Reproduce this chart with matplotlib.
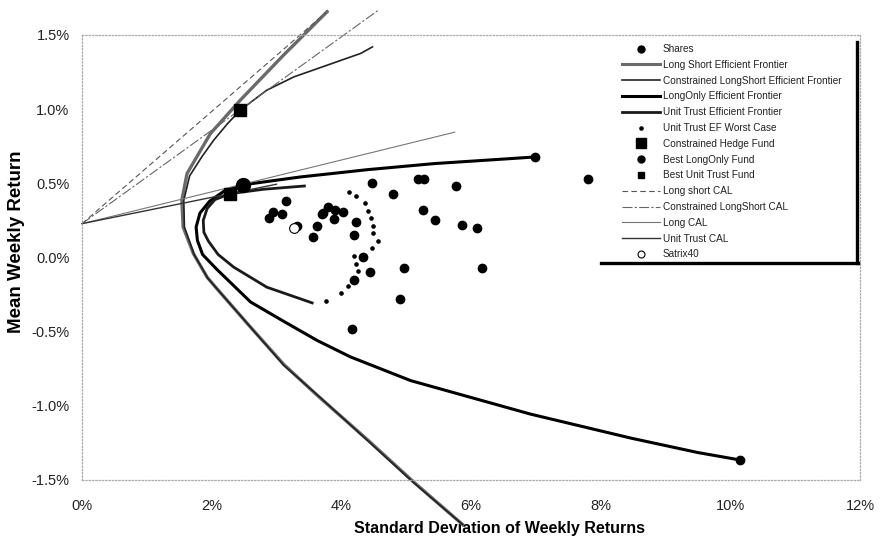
import matplotlib
matplotlib.use("Agg")
import matplotlib.pyplot as plt
from matplotlib.lines import Line2D
from matplotlib.ticker import FuncFormatter

# all values in percent (weekly)
share_sd = [4.47, 4.79, 5.19, 5.27, 5.77, 5.26, 5.44, 5.86, 6.09, 4.96, 6.17, 4.90, 4.17,
            4.23, 4.20, 4.33, 4.44, 4.20, 3.14, 2.95, 3.09, 2.89, 3.63, 3.57, 3.79, 3.72,
            3.88, 3.90, 4.02, 3.32, 7.80, 6.99, 10.15, 3.70]
share_mu = [0.50, 0.43, 0.527, 0.527, 0.48, 0.32, 0.25, 0.22, 0.20, -0.07, -0.07, -0.28, -0.48,
            0.24, 0.15, 0.00, -0.095, -0.155, 0.38, 0.31, 0.29, 0.265, 0.21, 0.14, 0.34, 0.30,
            0.26, 0.32, 0.31, 0.21, 0.526, 0.678, -1.365, 0.29]

ls_sd = [3.78, 3.11, 2.44, 1.98, 1.62, 1.54, 1.56, 1.72, 1.93, 2.08, 2.60, 3.11, 3.63, 4.42, 5.12, 5.87]
ls_mu = [1.657, 1.365, 1.06, 0.835, 0.566, 0.385, 0.205, 0.025, -0.133, -0.21, -0.47, -0.72, -0.93,
         -1.235, -1.515, -1.80]

cls_sd = [4.48, 4.30, 3.27, 2.85, 2.44, 2.24, 2.03, 1.85, 1.66, 1.57, 1.58, 1.73, 1.94, 2.10, 2.62,
          3.12, 3.64, 4.42, 5.12, 5.87]
cls_mu = [1.42, 1.376, 1.218, 1.128, 0.993, 0.90, 0.79, 0.68, 0.55, 0.385, 0.205, 0.02, -0.14, -0.22,
          -0.48, -0.73, -0.93, -1.24, -1.52, -1.80]

lo_sd = [6.99, 6.62, 5.43, 4.40, 3.37, 2.48, 2.20, 1.97, 1.82, 1.76, 1.78, 1.86, 2.08, 2.60, 3.11,
         3.63, 4.14, 5.07, 6.92, 8.47, 9.50, 10.15]
lo_mu = [0.678, 0.667, 0.633, 0.592, 0.543, 0.49, 0.45, 0.38, 0.30, 0.205, 0.115, 0.02, -0.08, -0.30,
         -0.43, -0.56, -0.67, -0.83, -1.056, -1.218, -1.315, -1.365]

ut_sd = [3.43, 2.80, 2.28, 2.05, 1.93, 1.87, 1.88, 1.95, 2.10, 2.34, 2.85, 3.55]
ut_mu = [0.482, 0.46, 0.43, 0.39, 0.33, 0.25, 0.17, 0.11, 0.02, -0.065, -0.20, -0.306]

utw_sd = [4.12, 4.23, 4.36, 4.41, 4.46, 4.49, 4.49, 4.57, 4.48, 4.20, 4.23, 4.26, 4.10, 3.99, 3.77]
utw_mu = [0.441, 0.412, 0.367, 0.316, 0.266, 0.209, 0.164, 0.113, 0.063, 0.011, -0.047, -0.093,
          -0.194, -0.241, -0.295]

hedge = (2.44, 0.993)
best_lo = (2.48, 0.49)
best_ut = (2.28, 0.43)
satrix = (3.27, 0.196)

rf = 0.228
ls_cal = ([0, 3.76], [rf, 1.65])
cls_cal = ([0, 4.58], [rf, 1.67])
long_cal = ([0, 5.75], [rf, 0.845])
ut_cal = ([0, 3.0], [rf, 0.494])

fig = plt.figure(figsize=(8.8, 5.43), dpi=100)
ax = fig.add_axes([82 / 880, 1 - 480 / 543, 778 / 880, 445 / 543])

ax.plot(ls_sd, ls_mu, color="#6a6a6a", lw=2.4, clip_on=False)
ax.plot(cls_sd, cls_mu, color="#222222", lw=1.2, clip_on=False)
ax.plot(lo_sd, lo_mu, color="black", lw=2.2, clip_on=False)
ax.plot(ut_sd, ut_mu, color="#1a1a1a", lw=2.0, clip_on=False)

ax.plot(*ls_cal, color="#555555", lw=0.8, ls=(0, (5, 3)), clip_on=False)
ax.plot(*cls_cal, color="#666666", lw=0.8, ls=(0, (9, 2, 2, 2)), clip_on=False)
ax.plot(*long_cal, color="#777777", lw=0.8, clip_on=False)
ax.plot(*ut_cal, color="#333333", lw=1.0, clip_on=False)

ax.plot(share_sd, share_mu, "o", color="black", ms=6, zorder=5)
ax.plot(utw_sd, utw_mu, "o", color="black", ms=2.3, zorder=5)
ax.plot(*hedge, "s", color="black", ms=8.5, zorder=6)
ax.plot(*best_lo, "o", color="black", ms=10, zorder=6)
ax.plot(*best_ut, "s", color="black", ms=8, zorder=6)
ax.plot(*satrix, "o", mfc="white", mec="black", mew=0.8, ms=7, zorder=7)

ax.set_xlim(0, 12)
ax.set_ylim(-1.5, 1.5)
ax.set_xticks([0, 2, 4, 6, 8, 10, 12])
ax.set_yticks([-1.5, -1.0, -0.5, 0.0, 0.5, 1.0, 1.5])
ax.xaxis.set_major_formatter(FuncFormatter(lambda v, p: f"{v:.0f}%"))
ax.yaxis.set_major_formatter(FuncFormatter(lambda v, p: f"{v:.1f}%"))
ax.tick_params(length=0, labelsize=10.5, colors="#222222")
ax.tick_params(axis="x", pad=14)
ax.tick_params(axis="y", pad=9)
for lab in ax.get_xticklabels() + ax.get_yticklabels():
    lab.set_family("Liberation Sans")

for s in ax.spines.values():
    s.set_color("#aaaaaa")
    s.set_linestyle(":")
    s.set_linewidth(0.9)

ax.set_xlabel("Standard Deviation of Weekly Returns", family="Liberation Sans",
              fontweight="bold", fontsize=11.5)
ax.xaxis.set_label_coords(0.537, -0.092)
ax.set_ylabel("Mean Weekly Return", family="Liberation Sans", fontweight="bold", fontsize=13.5)
ax.yaxis.set_label_coords(-0.073, 0.536)

handles = [
    Line2D([], [], ls="none", marker="o", color="black", ms=5),
    Line2D([], [], color="#6a6a6a", lw=2.2),
    Line2D([], [], color="#222222", lw=1.2),
    Line2D([], [], color="black", lw=2.2),
    Line2D([], [], color="#1a1a1a", lw=2.0),
    Line2D([], [], ls="none", marker="o", color="black", ms=2.3),
    Line2D([], [], ls="none", marker="s", color="black", ms=7),
    Line2D([], [], ls="none", marker="o", color="black", ms=5),
    Line2D([], [], ls="none", marker="s", color="black", ms=5),
    Line2D([], [], color="#555555", lw=0.8, ls=(0, (5, 3))),
    Line2D([], [], color="#666666", lw=0.8, ls=(0, (9, 2, 2, 2))),
    Line2D([], [], color="#777777", lw=0.8),
    Line2D([], [], color="#333333", lw=1.0),
    Line2D([], [], ls="none", marker="o", mfc="white", mec="black", mew=0.8, ms=5),
]
labels = ["Shares", "Long Short Efficient Frontier", "Constrained LongShort Efficient Frontier",
          "LongOnly Efficient Frontier", "Unit Trust Efficient Frontier", "Unit Trust EF Worst Case",
          "Constrained Hedge Fund", "Best LongOnly Fund", "Best Unit Trust Fund", "Long short CAL",
          "Constrained LongShort CAL", "Long CAL", "Unit Trust CAL", "Satrix40"]
leg = ax.legend(handles, labels, loc="upper left", bbox_to_anchor=(617 / 880, 1 - 39 / 543),
                bbox_transform=fig.transFigure, frameon=False, handlelength=3.8,
                handletextpad=0.3, labelspacing=0.58, borderpad=0,
                prop={"family": "Liberation Sans", "size": 7.2})
for t in leg.get_texts():
    t.set_color("#222222")

# legend shadow border on right and bottom
fig.add_artist(Line2D([857 / 880, 857 / 880], [1 - 42 / 543, 1 - 263 / 543], color="black", lw=2.4))
fig.add_artist(Line2D([601 / 880, 858 / 880], [1 - 263 / 543, 1 - 263 / 543], color="black", lw=2.4))

fig.savefig("out.png", dpi=100)
